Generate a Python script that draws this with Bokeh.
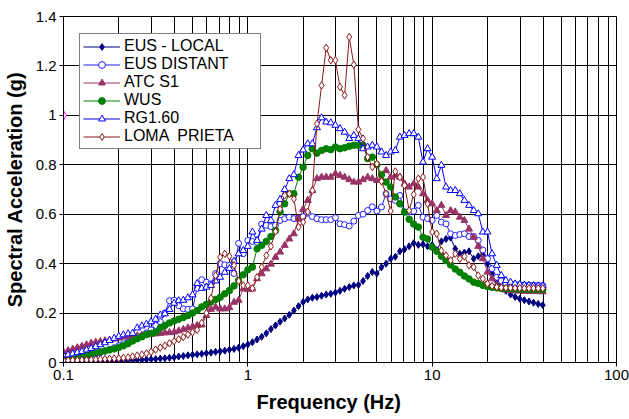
from bokeh.plotting import figure
from bokeh.models import Range1d, FixedTicker, Legend, LegendItem, Title
from bokeh.embed import file_html
from bokeh.resources import INLINE

# ---- data -------------------------------------------------------------
MANT = [1.0, 1.059, 1.122, 1.189, 1.259, 1.334, 1.413, 1.496, 1.585, 1.679,
        1.778, 1.884, 1.995, 2.113, 2.239, 2.371, 2.512, 2.661, 2.818, 2.985,
        3.162, 3.350, 3.548, 3.758, 3.981, 4.217, 4.467, 4.732, 5.012, 5.309,
        5.623, 5.957, 6.310, 6.683, 7.079, 7.499, 7.943, 8.414, 8.913, 9.441]
FREQ = [0.1 * m for m in MANT] + [1.0 * m for m in MANT] + [10.0 * m for m in MANT[:25]]

EUS_LOCAL = [
    0.002, 0.002, 0.002, 0.003, 0.003, 0.003, 0.004, 0.004, 0.005, 0.005,
    0.006, 0.006, 0.007, 0.008, 0.008, 0.009, 0.010, 0.011, 0.012, 0.013,
    0.014, 0.016, 0.017, 0.019, 0.021, 0.024, 0.026, 0.029, 0.031, 0.033,
    0.035, 0.037, 0.040, 0.043, 0.045, 0.048, 0.052, 0.055, 0.060, 0.066,
    0.073, 0.082, 0.093, 0.104, 0.118, 0.135, 0.150, 0.165, 0.178, 0.193,
    0.210, 0.228, 0.245, 0.255, 0.262, 0.265, 0.270, 0.275, 0.278, 0.283,
    0.290, 0.298, 0.305, 0.312, 0.314, 0.330, 0.350, 0.366, 0.360, 0.385,
    0.400, 0.420, 0.428, 0.450, 0.458, 0.470, 0.483, 0.476, 0.478, 0.470,
    0.475, 0.455, 0.490, 0.500, 0.505, 0.460, 0.440, 0.445, 0.450, 0.420,
    0.430, 0.435, 0.400, 0.360, 0.330, 0.305, 0.290, 0.275, 0.265, 0.258,
    0.252, 0.247, 0.242, 0.237, 0.232]

EUS_DISTANT = [
    0.012, 0.014, 0.016, 0.019, 0.022, 0.026, 0.030, 0.034, 0.040, 0.046,
    0.053, 0.060, 0.068, 0.076, 0.082, 0.090, 0.098, 0.108, 0.120, 0.132,
    0.150, 0.165, 0.200, 0.250, 0.252, 0.230, 0.217, 0.215, 0.217, 0.300,
    0.335, 0.325, 0.318, 0.360, 0.400, 0.395, 0.393, 0.360, 0.482, 0.440,
    0.494, 0.490, 0.487, 0.560, 0.555, 0.550, 0.555, 0.575, 0.582, 0.588,
    0.582, 0.585, 0.590, 0.604, 0.590, 0.582, 0.578, 0.578, 0.578, 0.586,
    0.561, 0.558, 0.552, 0.572, 0.595, 0.600, 0.615, 0.630, 0.613, 0.629,
    0.683, 0.662, 0.656, 0.676, 0.609, 0.609, 0.612, 0.636, 0.588, 0.582,
    0.575, 0.595, 0.568, 0.561, 0.521, 0.514, 0.518, 0.521, 0.510, 0.510,
    0.494, 0.455, 0.420, 0.380, 0.345, 0.330, 0.321, 0.318, 0.316, 0.315,
    0.314, 0.313, 0.313, 0.312, 0.312]

ATC_S1 = [
    0.042, 0.048, 0.054, 0.060, 0.066, 0.072, 0.078, 0.082, 0.085, 0.088,
    0.091, 0.095, 0.099, 0.103, 0.105, 0.107, 0.108, 0.110, 0.112, 0.114,
    0.116, 0.118, 0.120, 0.121, 0.123, 0.128, 0.134, 0.140, 0.145, 0.150,
    0.152, 0.190, 0.215, 0.224, 0.217, 0.217, 0.222, 0.244, 0.252, 0.298,
    0.296, 0.298, 0.339, 0.359, 0.379, 0.398, 0.426, 0.447, 0.474, 0.500,
    0.521, 0.580, 0.620, 0.656, 0.696, 0.744, 0.750, 0.750, 0.750, 0.764,
    0.757, 0.750, 0.740, 0.730, 0.730, 0.740, 0.750, 0.744, 0.737, 0.740,
    0.777, 0.750, 0.757, 0.750, 0.723, 0.710, 0.723, 0.710, 0.683, 0.656,
    0.642, 0.615, 0.636, 0.595, 0.615, 0.609, 0.588, 0.575, 0.540, 0.507,
    0.470, 0.420, 0.366, 0.339, 0.312, 0.298, 0.293, 0.291, 0.290, 0.289,
    0.288, 0.288, 0.287, 0.287, 0.286]

WUS = [
    0.019, 0.021, 0.023, 0.025, 0.028, 0.031, 0.035, 0.039, 0.043, 0.047,
    0.051, 0.055, 0.061, 0.068, 0.076, 0.087, 0.096, 0.104, 0.113, 0.118,
    0.123, 0.140, 0.150, 0.160, 0.168, 0.175, 0.182, 0.190, 0.200, 0.210,
    0.225, 0.235, 0.245, 0.255, 0.264, 0.278, 0.291, 0.310, 0.332, 0.355,
    0.375, 0.386, 0.460, 0.474, 0.490, 0.510, 0.534, 0.609, 0.642, 0.683,
    0.683, 0.750, 0.790, 0.838, 0.865, 0.847, 0.858, 0.865, 0.861, 0.872,
    0.865, 0.869, 0.875, 0.879, 0.879, 0.879, 0.825, 0.831, 0.800, 0.760,
    0.730, 0.710, 0.670, 0.642, 0.609, 0.580, 0.560, 0.548, 0.507, 0.500,
    0.467, 0.450, 0.430, 0.412, 0.395, 0.378, 0.365, 0.350, 0.338, 0.325,
    0.320, 0.312, 0.307, 0.304, 0.302, 0.300, 0.299, 0.298, 0.297, 0.297,
    0.296, 0.296, 0.295, 0.295, 0.295]

RG160 = [
    0.028, 0.031, 0.035, 0.040, 0.045, 0.051, 0.057, 0.064, 0.072, 0.080,
    0.089, 0.098, 0.106, 0.112, 0.116, 0.118, 0.140, 0.148, 0.155, 0.165,
    0.175, 0.192, 0.197, 0.215, 0.240, 0.250, 0.252, 0.262, 0.274, 0.320,
    0.300, 0.305, 0.312, 0.330, 0.345, 0.365, 0.380, 0.410, 0.440, 0.453,
    0.470, 0.528, 0.494, 0.540, 0.595, 0.575, 0.636, 0.660, 0.700, 0.744,
    0.760, 0.838, 0.860, 0.885, 0.885, 0.950, 0.990, 0.973, 0.970, 0.960,
    0.946, 0.932, 0.906, 0.919, 0.906, 0.865, 0.872, 0.879, 0.872, 0.852,
    0.838, 0.852, 0.858, 0.912, 0.919, 0.926, 0.926, 0.912, 0.811, 0.865,
    0.831, 0.744, 0.798, 0.710, 0.696, 0.696, 0.683, 0.656, 0.636, 0.615,
    0.602, 0.528, 0.528, 0.440, 0.393, 0.352, 0.332, 0.325, 0.318, 0.315,
    0.313, 0.312, 0.311, 0.310, 0.310]

LOMA_PRIETA = [
    0.008, 0.008, 0.009, 0.009, 0.010, 0.010, 0.011, 0.012, 0.013, 0.014,
    0.015, 0.016, 0.017, 0.019, 0.021, 0.024, 0.028, 0.032, 0.037, 0.043,
    0.052, 0.060, 0.068, 0.078, 0.086, 0.094, 0.103, 0.113, 0.122, 0.132,
    0.160, 0.200, 0.260, 0.352, 0.426, 0.440, 0.430, 0.393, 0.330, 0.312,
    0.312, 0.300, 0.345, 0.386, 0.433, 0.470, 0.530, 0.620, 0.676, 0.683,
    0.662, 0.548, 0.568, 0.610, 0.696, 0.966, 1.121, 1.273, 1.223, 1.223,
    1.115, 1.081, 1.317, 1.205, 0.943, 0.906, 0.831, 0.791, 0.804, 0.733,
    0.683, 0.613, 0.773, 0.750, 0.717, 0.615, 0.680, 0.744, 0.750, 0.642,
    0.528, 0.521, 0.453, 0.433, 0.413, 0.440, 0.420, 0.429, 0.393, 0.386,
    0.352, 0.339, 0.319, 0.310, 0.305, 0.303, 0.302, 0.302, 0.301, 0.301,
    0.300, 0.300, 0.300, 0.300, 0.300]

STRAY_X = [0.1]
STRAY_Y = [1.0]

SERIES_NAMES = ["EUS - LOCAL", "EUS DISTANT", "ATC S1", "WUS", "RG1.60", "LOMA  PRIETA"]

X_MAJOR = [0.1, 1, 10, 100]
X_MINOR = [0.2, 0.3, 0.4, 0.5, 0.6, 0.7, 0.8, 0.9,
           2, 3, 4, 5, 6, 7, 8, 9,
           20, 30, 40, 50, 60, 70, 80, 90]
Y_TICKS = [0, 0.2, 0.4, 0.6, 0.8, 1.0, 1.2, 1.4]

X_TITLE = "Frequency (Hz)"
Y_TITLE = "Spectral Acceleration (g)"

# ---- figure -------------------------------------------------------------
FONT = "Liberation Sans"

p = figure(frame_width=553, frame_height=346, x_axis_type="log",
           x_range=Range1d(0.1, 100), y_range=Range1d(0, 1.4),
           output_backend="svg", toolbar_location=None,
           min_border_left=60, min_border_right=16, min_border_top=16,
           min_border_bottom=0)
p.background_fill_color = "white"
p.border_fill_color = "white"
p.outline_line_color = "black"
p.outline_line_width = 1

xt = FixedTicker(ticks=X_MAJOR, minor_ticks=X_MINOR)
p.xaxis.ticker = xt
p.xgrid.ticker = xt
p.xaxis.major_label_overrides = {0.1: "0.1", 1: "1", 10: "10", 100: "100"}
yt = FixedTicker(ticks=Y_TICKS)
p.yaxis.ticker = yt
p.ygrid.ticker = yt
p.yaxis.major_label_overrides = {0: "0", 1: "1"}

for ax in (p.xaxis, p.yaxis):
    ax.axis_line_color = "black"
    ax.major_tick_line_color = "black"
    ax.major_tick_out = 4
    ax.major_tick_in = 0
    ax.minor_tick_out = 0
    ax.minor_tick_in = 0
    ax.major_label_text_font = FONT
    ax.major_label_text_font_size = "15px"
    ax.major_label_text_color = "black"
    ax.axis_label_text_font = FONT
    ax.axis_label_text_font_size = "20px"
    ax.axis_label_text_font_style = "bold"
    ax.axis_label_text_color = "black"
    ax.major_label_standoff = 3

p.yaxis.axis_label = Y_TITLE
p.yaxis.axis_label_standoff = 7

p.add_layout(Title(text=X_TITLE, align="left", offset=193, standoff=13,
                   text_font=FONT, text_font_size="20px",
                   text_font_style="bold", text_color="black"), "below")

p.xgrid.grid_line_color = "black"
p.xgrid.minor_grid_line_color = "black"
p.xgrid.grid_line_width = 1
p.xgrid.minor_grid_line_width = 1
p.ygrid.grid_line_color = "black"
p.ygrid.grid_line_width = 1

styles = [
    (EUS_LOCAL, "#000080", "diamond", 7, "#000080"),
    (EUS_DISTANT, "#1F1FFF", "circle", 6, "white"),
    (ATC_S1, "#993366", "triangle", 7, "#993366"),
    (WUS, "#008000", "circle", 6.5, "#008000"),
    (RG160, "#0000FF", "triangle", 7, "white"),
    (LOMA_PRIETA, "#8B1A1A", "diamond", 7.5, "white"),
]

items = []
for name, (ys, col, mk, sz, fill) in zip(SERIES_NAMES, styles):
    ln = p.line(FREQ, ys, line_color=col, line_width=1)
    sc = p.scatter(FREQ, ys, marker=mk, size=sz, line_color=col,
                   fill_color=fill, line_width=1)
    items.append(LegendItem(label=name, renderers=[ln, sc]))

p.scatter(STRAY_X, STRAY_Y, marker="diamond", size=9, line_color="#FF00FF",
          fill_color="white", line_width=1)

legend = Legend(items=items, location=(16, 213), padding=3, spacing=0,
                glyph_width=37, glyph_height=17, label_height=17,
                label_width=133, label_standoff=4, margin=0,
                label_text_font=FONT, label_text_font_size="16px",
                label_text_color="black",
                border_line_color="black", border_line_width=1,
                background_fill_color="white", background_fill_alpha=1.0)
p.add_layout(legend)

open("out.html", "w").write(file_html(p, INLINE))
